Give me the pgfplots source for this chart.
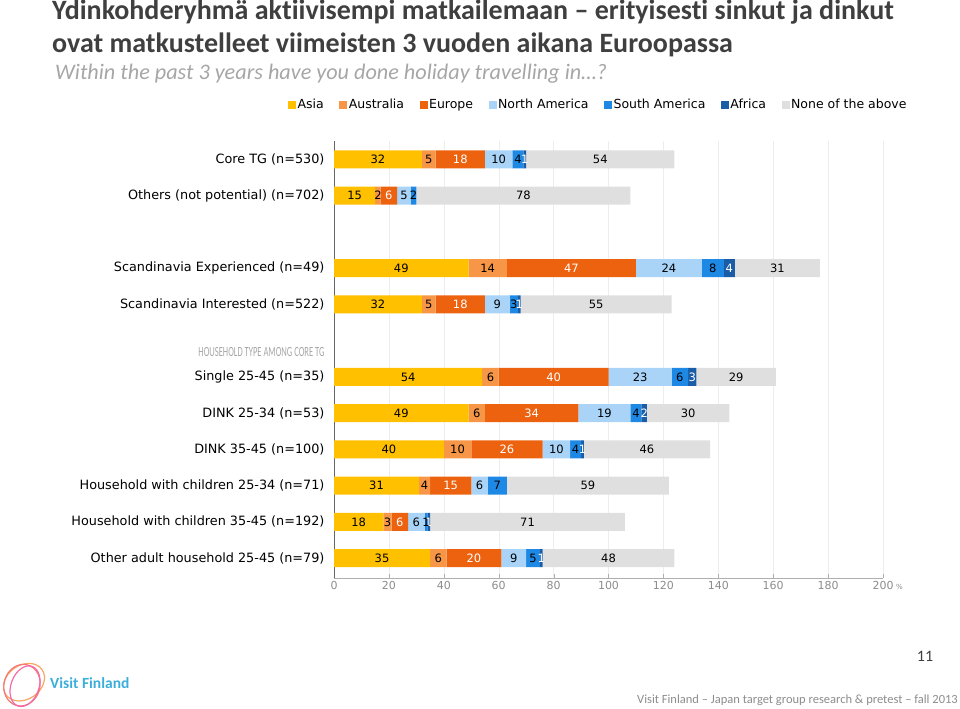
\documentclass[border=0pt]{standalone}
\usepackage{pgfplots}
\usepackage{pgfplotstable}
\pgfplotsset{compat=1.18}
\usepackage{fontspec}
\setmainfont{DejaVu Sans}
\newfontfamily\calib[Ligatures=NoCommon]{Carlito}
\newfontfamily\calibc[FakeStretch=0.61]{Carlito}
\definecolor{cAsia}{HTML}{FFC000}
\definecolor{cAus}{HTML}{F79646}
\definecolor{cEur}{HTML}{EC620F}
\definecolor{cNA}{HTML}{A9D4F7}
\definecolor{cSA}{HTML}{1E88E5}
\definecolor{cAf}{HTML}{1A5DA6}
\definecolor{cNone}{HTML}{DFDFDF}
\definecolor{titlegray}{HTML}{3F3F3F}
\definecolor{subgray}{HTML}{A6A6A6}
\definecolor{tickgray}{HTML}{8C8C8C}
\definecolor{gridgray}{HTML}{EDEDED}
\definecolor{vfblue}{HTML}{3BAED9}
\pgfplotstableread{
y asia aus eur na sa af afl none
0 32 5 18 10 4 1 1 54
1 15 2 6 5 2 0 {} 78
3 49 14 47 24 8 4 4 31
4 32 5 18 9 3 1 1 55
6 54 6 40 23 6 3 3 29
7 49 6 34 19 4 2 2 30
8 40 10 26 10 4 1 1 46
9 31 4 15 6 7 0 0 59
10 18 3 6 6 1 1 1 71
11 35 6 20 9 5 1 1 48
}\data
\begin{document}
\begin{tikzpicture}
\path (0pt,0pt) rectangle (960pt,708pt);
% titles
\node[anchor=west, text=titlegray, font=\calib\bfseries\fontsize{28}{30}\selectfont, inner sep=0pt] at (52pt,696pt) {Ydinkohderyhmä aktiivisempi matkailemaan – erityisesti sinkut ja dinkut};
\node[anchor=west, text=titlegray, font=\calib\bfseries\fontsize{28}{30}\selectfont, inner sep=0pt] at (52pt,663pt) {ovat matkustelleet viimeisten 3 vuoden aikana Euroopassa};
\node[anchor=west, text=subgray, font=\calib\itshape\fontsize{22.2}{24}\selectfont, inner sep=0pt] at (55pt,634pt) {Within the past 3 years have you done holiday travelling in…?};
\begin{axis}[
  at={(334pt,130pt)}, anchor=south west,
  scale only axis, width=549pt, height=437pt,
  xbar stacked, bar width=18pt,
  xmin=0, xmax=200, ymin=-0.5, ymax=11.55, y dir=reverse,
  /pgf/number format/assume math mode=true,
  axis x line*=bottom, axis y line*=left,
  x axis line style={draw=tickgray!70},
  y axis line style={draw=black!60},
  xtick={0,20,...,200},
  xticklabel style={text=tickgray, font=\fontsize{11}{12}\selectfont},
  x tick style={draw=tickgray!70},
  major tick length=4pt,
  xmajorgrids, grid style={draw=gridgray},
  ytick={0,1,3,4,5.32,6,7,8,9,10,11},
  yticklabels={Core TG (n=530),Others (not potential) (n=702),Scandinavia Experienced (n=49),Scandinavia Interested (n=522),{\calibc\fontsize{14}{15}\selectfont\color{subgray}HOUSEHOLD TYPE AMONG CORE TG},Single 25-45 (n=35),DINK 25-34 (n=53),DINK 35-45 (n=100),Household with children 25-34 (n=71),Household with children 35-45 (n=192),Other adult household 25-45 (n=79)},
  y tick style={draw=none},
  yticklabel style={font=\fontsize{12.8}{14}\selectfont, text=black, xshift=-6pt},
  every axis plot/.append style={draw=none},
  nodes near coords,
  every node near coord/.append style={font=\fontsize{11.5}{13}\selectfont},
  legend columns=7,
  legend style={at={(0.481,1.082)}, anchor=center, draw=none, fill=none,
    font=\fontsize{12.5}{14}\selectfont,
    /tikz/every even column/.append style={column sep=14pt},
    nodes={inner xsep=1.5pt, text height=9pt, text depth=3pt},
    inner sep=0pt},
  legend image code/.code={\fill[#1] (0pt,-4pt) rectangle (8pt,4pt);},
]
\addplot[fill=cAsia, nodes near coords style={text=black}] table[x=asia,y=y]{\data};
\addlegendentry{Asia}
\addplot[fill=cAus, nodes near coords style={text=black}] table[x=aus,y=y]{\data};
\addlegendentry{Australia}
\addplot[fill=cEur, nodes near coords style={text=white}] table[x=eur,y=y]{\data};
\addlegendentry{Europe}
\addplot[fill=cNA, nodes near coords style={text=black}] table[x=na,y=y]{\data};
\addlegendentry{North America}
\addplot[fill=cSA, nodes near coords style={text=black}] table[x=sa,y=y]{\data};
\addlegendentry{South America}
\addplot[fill=cAf, point meta=explicit symbolic, nodes near coords style={text=white}] table[x=af,y=y,meta=afl]{\data};
\addlegendentry{Africa}
\addplot[fill=cNone, nodes near coords style={text=black}] table[x=none,y=y]{\data};
\addlegendentry{None of the above}
\end{axis}
\node[anchor=west, text=tickgray, font=\fontsize{7}{8}\selectfont, inner sep=0pt] at (896pt,121pt) {\%};
% logo
\begin{scope}[line width=1.2pt]
\draw[color=cAus!85!white, rotate around={35:(24pt,26pt)}] (24pt,26pt) ellipse (22pt and 17pt);
\draw[color=magenta!45!orange!75!white, rotate around={-15:(22pt,23pt)}] (22pt,23pt) ellipse (18pt and 21pt);
\draw[color=magenta!60!white!90!orange, rotate around={70:(25pt,22pt)}] (25pt,22pt) ellipse (21pt and 14pt);
\end{scope}
\node[anchor=west, text=vfblue, font=\calib\bfseries\fontsize{15.5}{17}\selectfont, inner sep=0pt] at (50pt,25pt) {Visit Finland};
\node[anchor=center, text=titlegray, font=\calib\fontsize{16}{18}\selectfont, inner sep=0pt] at (925pt,52pt) {11};
\node[anchor=east, text=tickgray, font=\calib\fontsize{12.5}{14}\selectfont, inner sep=0pt] at (958pt,8pt) {Visit Finland – Japan target group research \& pretest – fall 2013};
\end{tikzpicture}
\end{document}
